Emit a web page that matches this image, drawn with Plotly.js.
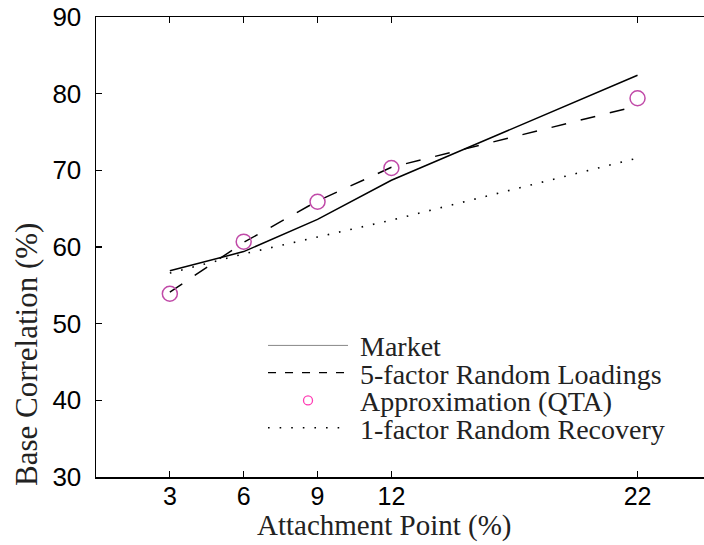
<!DOCTYPE html>
<html>
<head>
<meta charset="utf-8">
<script src="https://cdn.plot.ly/plotly-3.0.1.min.js"></script>
<style>html,body{margin:0;padding:0;background:#fff;}</style>
</head>
<body>
<div id="chart" style="width:704px;height:545px;"></div>
<script>
// Attachment points (%)
const attachment = [3, 6, 9, 12, 22];
// Base correlation (%) per series
const market = [56.9, 59.4, 63.6, 68.7, 82.4];
const fiveFactor = [54.1, 60.6, 66.0, 70.4, 78.4];
const qta = [53.9, 60.7, 65.9, 70.3, 79.4];
const oneFactor = [56.6, 59.1, 61.3, 63.5, 71.6];
const yTicks = [30, 40, 50, 60, 70, 80, 90];
const names = ['Market', '5-factor Random Loadings', 'Approximation (QTA)', '1-factor Random Recovery'];

const serif = 'Liberation Serif, Times New Roman, serif';
const sans = 'Liberation Sans, Arial, sans-serif';

const traces = [
  {x: attachment, y: market, mode: 'lines', line: {color: '#000', width: 1.5}, showlegend: false, hoverinfo: 'skip'},
  {x: attachment, y: fiveFactor, mode: 'lines', line: {color: '#000', width: 1.5, dash: '15px,15px'}, showlegend: false, hoverinfo: 'skip'},
  {x: attachment, y: oneFactor, mode: 'lines', line: {color: '#000', width: 1.6, dash: '1.6px,10px'}, showlegend: false, hoverinfo: 'skip'},
  {x: attachment, y: qta, mode: 'markers', marker: {symbol: 'circle-open', size: 15, color: '#c04aa8', line: {width: 1.5, color: '#c04aa8'}}, showlegend: false, hoverinfo: 'skip'},
  // legend entries
  {x: [null], y: [null], name: '&nbsp;' + names[0], mode: 'lines', line: {color: '#888', width: 1}, legend: 'legend'},
  {x: [null], y: [null], name: '&nbsp;' + names[1], mode: 'lines', line: {color: '#000', width: 1.3, dash: '8px,9px'}, legend: 'legend2'},
  {x: [null], y: [null], name: '&nbsp;' + names[2], mode: 'markers', marker: {symbol: 'circle-open', size: 9, color: '#ff3cb4', line: {width: 1.3, color: '#ff3cb4'}}, legend: 'legend3'},
  {x: [null], y: [null], name: '&nbsp;' + names[3], mode: 'lines', line: {color: '#000', width: 1.6, dash: '1.6px,10px'}, legend: 'legend4'}
];

function leg(y) {
  return {x: 0.2747, xanchor: 'left', y: y, yanchor: 'middle', bgcolor: 'rgba(0,0,0,0)', borderwidth: 0,
    font: {family: serif, size: 28, color: '#222'}, itemwidth: 80};
}

const layout = {
  width: 704, height: 545,
  margin: {l: 96, r: 0, t: 17, b: 68, pad: 0},
  paper_bgcolor: '#fff', plot_bgcolor: '#fff',
  showlegend: true,
  xaxis: {range: [0, 24.7], tickmode: 'array', tickvals: attachment, ticktext: attachment.map(String),
    ticks: 'inside', ticklen: 6, tickwidth: 1.2, tickcolor: '#000',
    showline: true, linecolor: '#000', linewidth: 1.5, mirror: 'ticks',
    showgrid: false, zeroline: false, ticklabelstandoff: -4,
    tickfont: {family: sans, size: 25, color: '#000'}},
  yaxis: {range: [30, 90], tickmode: 'array', tickvals: yTicks, ticktext: yTicks.map(String),
    ticks: 'inside', ticklen: 6, tickwidth: 1.2, tickcolor: '#000',
    showline: true, linecolor: '#000', linewidth: 1.5, mirror: false,
    showgrid: false, zeroline: false, ticklabelstandoff: 8,
    tickfont: {family: sans, size: 26, color: '#000'}},
  legend: leg(0.2854),
  legend2: leg(0.2261),
  legend3: leg(0.1659),
  legend4: leg(0.1065),
  annotations: [
    {text: 'Attachment Point (%)', xref: 'paper', yref: 'paper', x: 0.4737, y: -0.1446,
      xanchor: 'center', yanchor: 'bottom', showarrow: false, font: {family: serif, size: 29, color: '#222'}},
    {text: 'Base Correlation (%)', xref: 'paper', yref: 'paper', x: -0.1135, y: 0.2674, textangle: -90,
      xanchor: 'center', yanchor: 'middle', showarrow: false, font: {family: serif, size: 31, color: '#222'}}
  ]
};

Plotly.newPlot('chart', traces, layout, {displayModeBar: false, staticPlot: true});
</script>
</body>
</html>
